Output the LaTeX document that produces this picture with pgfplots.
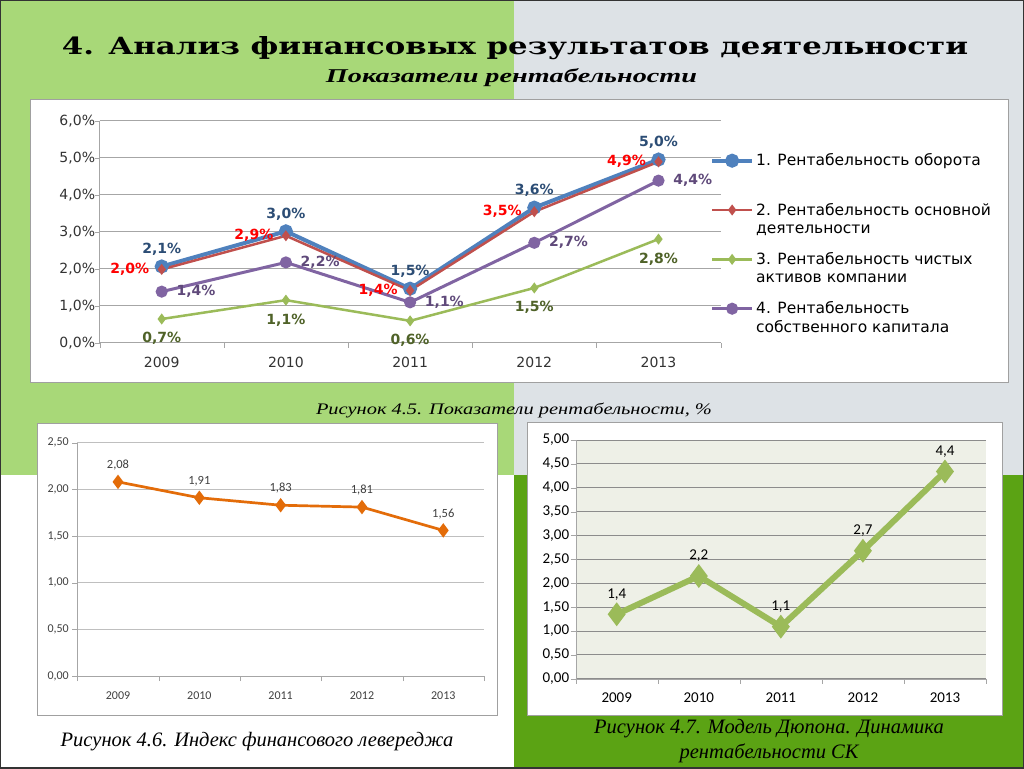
\documentclass[border=0pt]{standalone}
\usepackage{fontspec}
\setmainfont{Liberation Serif}
\newfontfamily\dv{DejaVu Sans}
\newfontfamily\dvserif{DejaVu Serif}
\newfontfamily\carl{Carlito}
\usepackage{graphicx}
\usepackage{pgfplots}
\pgfplotsset{compat=1.18}
\usepackage{pgfplotstable}

\definecolor{bgleft}{HTML}{A8D878}
\definecolor{bgright}{HTML}{DDE2E6}
\definecolor{bgdark}{HTML}{5BA314}
\definecolor{frame}{HTML}{A0A0A0}
\definecolor{gridc}{HTML}{A6A6A6}
\definecolor{xlblue}{HTML}{4F81BD}
\definecolor{xlred}{HTML}{C0504D}
\definecolor{xlgreen}{HTML}{9BBB59}
\definecolor{xlpurple}{HTML}{8064A2}
\definecolor{xlorange}{HTML}{E36C09}
\definecolor{lblblue}{HTML}{2C4D75}
\definecolor{lblred}{HTML}{FF0000}
\definecolor{lblgreen}{HTML}{4F6228}
\definecolor{lblpurple}{HTML}{5F497A}
\definecolor{plotbg}{HTML}{EEF0E7}

% Рисунок 4.5: values and their labels
\pgfplotstableread{
x s1 l1 s2 l2 s3 l3 s4 l4
0 2.06 2.1 1.98 2.0 0.64 0.7 1.38 1.4
1 3.01 3.0 2.89 2.9 1.15 1.1 2.17 2.2
2 1.46 1.5 1.41 1.4 0.59 0.6 1.09 1.1
3 3.65 3.6 3.54 3.5 1.48 1.5 2.70 2.7
4 4.95 5.0 4.89 4.9 2.80 2.8 4.38 4.4
}\tabA
% Рисунок 4.6
\pgfplotstableread{
x y
0 2.08
1 1.91
2 1.83
3 1.81
4 1.56
}\tabB
% Рисунок 4.7
\pgfplotstableread{
x y l
0 1.35 1.4
1 2.15 2.2
2 1.09 1.1
3 2.68 2.7
4 4.34 4.4
}\tabC

\pgfplotsset{
  years/.style={
    scale only axis, anchor=south west, clip=false,
    xmin=-0.5, xmax=4.5,
    xtick={0,...,4}, xticklabels={2009,2010,2011,2012,2013},
    minor xtick={-0.5,0.5,...,4.5},
    major x tick style={draw=none},
    axis x line=bottom, axis y line=left,
    axis line style={-, draw=gridc},
    tick style={draw=gridc},
    tick align=outside, major tick length=5pt, minor tick length=5pt,
    ymajorgrids, grid style={draw=gridc, line width=0.8pt},
    xticklabel style={yshift=-6pt},
  },
  pct/.style={
    nodes near coords={\pgfmathprintnumber[fixed,fixed zerofill,precision=1,use comma,assume math mode=true]{\pgfplotspointmeta}\%},
    point meta=explicit,
  },
}

\begin{document}
\begin{tikzpicture}[x=1pt,y=1pt]
\useasboundingbox (0,0) rectangle (1024,768);
% slide background
\fill[bgleft] (0,293) rectangle (514,768);
\fill[bgright] (514,293) rectangle (1024,768);
\fill[white] (0,0) rectangle (514,293);
\fill[bgdark] (514,0) rectangle (1024,293);
\draw[black!80, line width=2pt] (0,0) rectangle (1024,768);
% chart frames
\filldraw[fill=white, draw=frame, line width=1pt] (30,385) rectangle (1008,668);
\filldraw[fill=white, draw=frame, line width=1pt] (37,53) rectangle (497,344);
\filldraw[fill=white, draw=frame, line width=1pt] (527,53) rectangle (1002,345);

\node[anchor=base, inner sep=0pt] at (515,713)
  {\resizebox{906pt}{18pt}{\dvserif\bfseries 4. Анализ финансовых результатов деятельности}};
\node[anchor=base, inner sep=0pt] at (511.5,685)
  {\resizebox{371pt}{14pt}{\bfseries\itshape Показатели рентабельности}};
\node[anchor=base, inner sep=0pt] at (514,353)
  {\resizebox{396pt}{11.5pt}{\itshape Рисунок 4.5. Показатели рентабельности, \%}};
\node[font=\fontsize{20.5}{24}\selectfont\itshape] at (257,26) {Рисунок 4.6. Индекс финансового левереджа};
\node[font=\fontsize{20.5}{25}\selectfont\itshape, align=center] at (769,27) {Рисунок 4.7. Модель Дюпона. Динамика\\рентабельности СК};

% Рисунок 4.5
\begin{axis}[years,
  at={(99.6pt,425.3pt)}, width=621pt, height=222pt,
  ymin=0, ymax=6, ytick={0,...,6},
  yticklabels={{0,0\%},{1,0\%},{2,0\%},{3,0\%},{4,0\%},{5,0\%},{6,0\%}},
  ticklabel style={font=\dv\fontsize{14}{16}\selectfont, text=black!80},
  yticklabel style={xshift=4pt},
  legend style={at={(axis description cs:0.978,0.87)}, anchor=north west,
    draw=none, fill=none, row sep=13.5pt,
    font=\dv\fontsize{15.5}{18.3}\selectfont,
    nodes={align=left}},
  legend cell align=left,
  legend image code/.code={\draw[mark repeat=2,mark phase=2,yshift=9pt,#1] plot coordinates {(0pt,0pt) (20pt,0pt) (40pt,0pt)};},
  every node near coord/.append style={font=\dv\bfseries\fontsize{14}{16}\selectfont},
]
\addplot[xlblue, line width=4pt, mark=*, mark size=5pt, pct,
  every node near coord/.append style={anchor=south, yshift=6pt, text=lblblue}]
  table[x=x, y=s1, meta=l1] {\tabA};
\addlegendentry{1. Рентабельность оборота\\\strut}
\addplot[xlred, line width=2.5pt, mark=diamond*, mark size=3.5pt, pct,
  every node near coord/.append style={anchor=east, xshift=-8pt, text=lblred}]
  table[x=x, y=s2, meta=l2] {\tabA};
\addlegendentry{2. Рентабельность основной\\деятельности}
\addplot[xlgreen, line width=2.5pt, mark=diamond*, mark size=3.5pt, pct,
  every node near coord/.append style={anchor=north, yshift=-9pt, text=lblgreen}]
  table[x=x, y=s3, meta=l3] {\tabA};
\addlegendentry{3. Рентабельность чистых\\активов компании}
\addplot[xlpurple, line width=3pt, mark=*, mark size=4.5pt, pct,
  every node near coord/.append style={anchor=west, xshift=10pt, text=lblpurple}]
  table[x=x, y=s4, meta=l4] {\tabA};
\addlegendentry{4. Рентабельность\\собственного капитала}
\end{axis}

% Рисунок 4.6
\begin{axis}[years,
  at={(77.35pt,92pt)}, width=406.6pt, height=233.3pt,
  ymin=0, ymax=2.5, ytick={0,0.5,...,2.5},
  yticklabels={{0,00},{0,50},{1,00},{1,50},{2,00},{2,50}},
  grid style={draw=black!25, line width=0.8pt},
  ticklabel style={font=\carl\fontsize{12}{14}\selectfont, text=black!75},
  xticklabel style={yshift=-1pt},
  nodes near coords={\pgfmathprintnumber[fixed,fixed zerofill,precision=2,use comma,assume math mode=true]{\pgfplotspointmeta}},
  every node near coord/.append style={font=\carl\fontsize{12.5}{14}\selectfont, text=black!75, anchor=south, yshift=7pt},
]
\addplot[xlorange, line width=2.7pt, mark=diamond*, mark size=5pt] table[x=x, y=y] {\tabB};
\end{axis}

% Рисунок 4.7
\begin{axis}[years,
  at={(575.7pt,89.3pt)}, width=410.3pt, height=238.7pt,
  axis background/.style={fill=plotbg},
  ymin=0, ymax=5, ytick={0,0.5,...,5},
  yticklabels={{0,00},{0,50},{1,00},{1,50},{2,00},{2,50},{3,00},{3,50},{4,00},{4,50},{5,00}},
  grid style={draw=black!45, line width=0.8pt},
  ticklabel style={font=\carl\fontsize{15}{17}\selectfont, text=black},
  yticklabel style={xshift=2pt},
  nodes near coords={\pgfmathprintnumber[fixed,fixed zerofill,precision=1,use comma,assume math mode=true]{\pgfplotspointmeta}},
  point meta=explicit,
  every node near coord/.append style={font=\carl\fontsize{15}{17}\selectfont, text=black, anchor=south, yshift=8pt},
]
\addplot[xlgreen, line width=6pt, mark=diamond*, mark size=7pt] table[x=x, y=y, meta=l] {\tabC};
\end{axis}
\end{tikzpicture}
\end{document}
